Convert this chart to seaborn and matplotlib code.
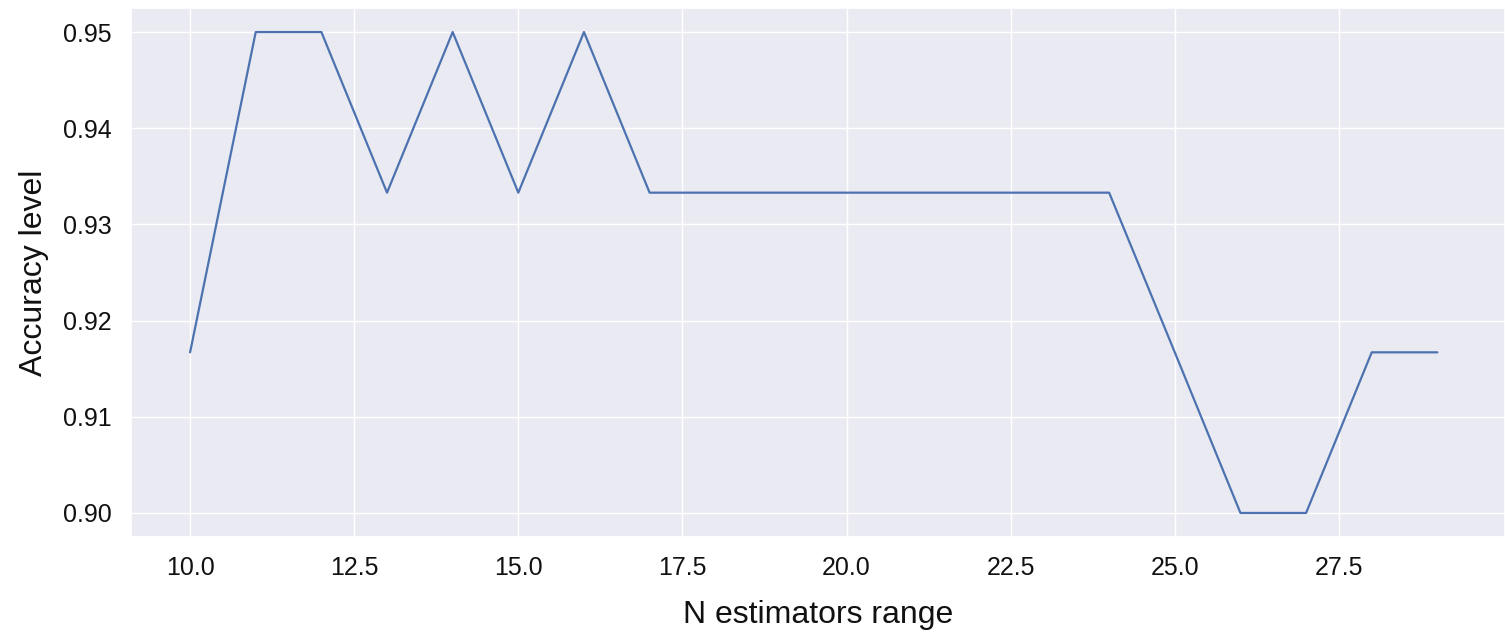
import numpy as np
import pandas as pd
import matplotlib
matplotlib.use('Agg')
import matplotlib.pyplot as plt
import seaborn as sns

# accuracy for each n_estimators value
n_estimators = [10, 11, 12, 13, 14, 15, 16, 17, 18, 19,
                20, 21, 22, 23, 24, 25, 26, 27, 28, 29]
accuracy = [0.9167, 0.95, 0.95, 0.9333, 0.95, 0.9333, 0.95, 0.9333, 0.9333, 0.9333,
            0.9333, 0.9333, 0.9333, 0.9333, 0.9333, 0.9167, 0.90, 0.90, 0.9167, 0.9167]

sns.set_theme(style='darkgrid')
plt.rcParams['font.family'] = ['Liberation Sans', 'DejaVu Sans']
plt.rcParams['text.color'] = '#111111'
plt.rcParams['axes.labelcolor'] = '#111111'
plt.rcParams['xtick.color'] = '#111111'
plt.rcParams['ytick.color'] = '#111111'

df = pd.DataFrame({'n': n_estimators, 'acc': accuracy})

fig = plt.figure(figsize=(15.05, 6.39), dpi=100)
ax = fig.add_axes([131 / 1505, 1 - 537 / 639, 1 - 131 / 1505, (537 - 8) / 639])
sns.lineplot(data=df, x='n', y='acc', ax=ax, linewidth=1.6)

ax.set_xlim(9.1, 30.03)
ax.set_xticks([10.0, 12.5, 15.0, 17.5, 20.0, 22.5, 25.0, 27.5])
ax.set_xticklabels(['10.0', '12.5', '15.0', '17.5', '20.0', '22.5', '25.0', '27.5'])
ax.set_yticks([0.90, 0.91, 0.92, 0.93, 0.94, 0.95])
ax.set_yticklabels(['0.90', '0.91', '0.92', '0.93', '0.94', '0.95'])
ax.tick_params(labelsize=18, pad=8)
ax.set_xlabel('N estimators range', fontsize=23, labelpad=14)
ax.set_ylabel('Accuracy level', fontsize=23, labelpad=10)

fig.savefig('out.png', dpi=100)
